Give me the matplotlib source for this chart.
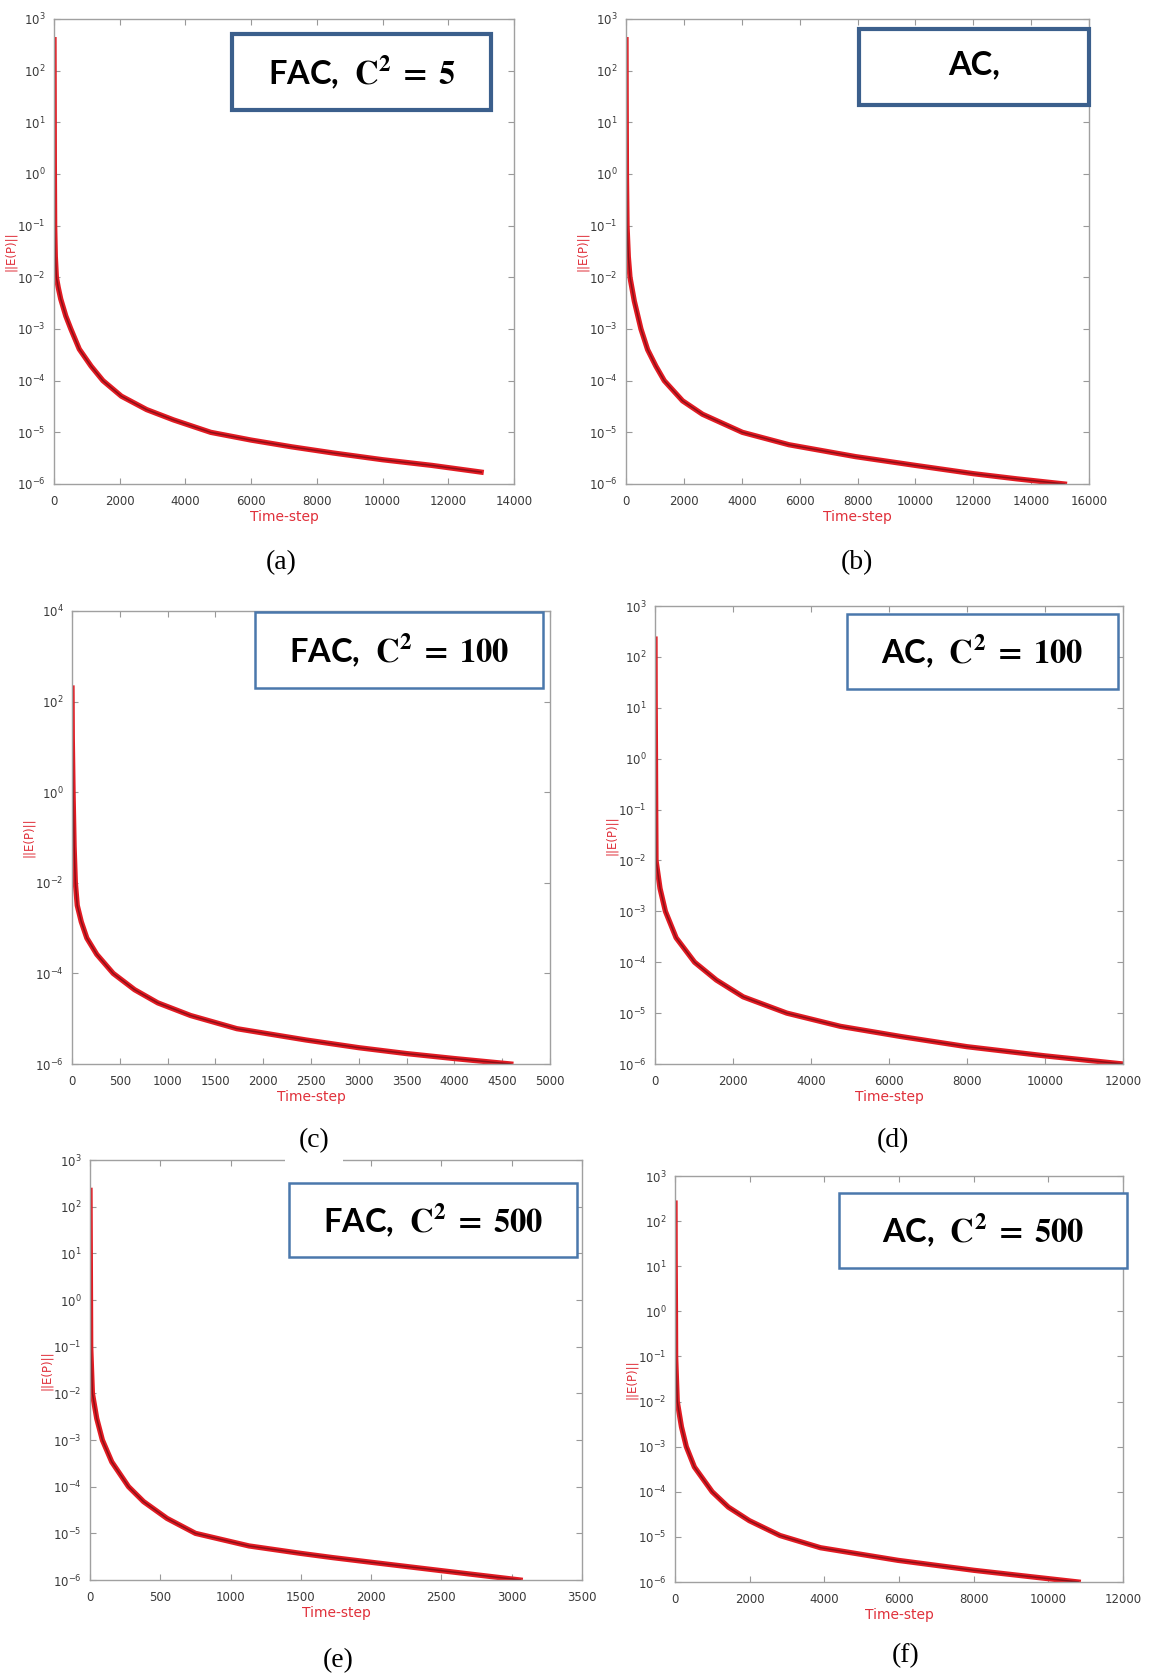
"""Six convergence panels: ||E(P)|| against time-step, FAC vs AC at three C^2 values."""
import matplotlib.pyplot as plt
import numpy as np
from matplotlib.patches import Rectangle
from matplotlib.ticker import LogLocator

plt.rcParams['mathtext.fontset'] = 'stix'

W, H = 1152, 1680

# readings from the picture: time-step and log10 ||E(P)||
t_a = [0, 5, 10, 20, 40, 72, 130, 205, 360, 513, 770, 1130, 1490, 2050, 2820, 3640, 4770, 6000, 7230, 8500, 10000, 11500, 13000]
logy_a = [2.6, 1.5, 0.2, -1.0, -1.6, -2.0, -2.2, -2.42, -2.75, -3.0, -3.39, -3.72, -4.0, -4.3, -4.56, -4.76, -5.0, -5.15, -5.28, -5.4, -5.53, -5.64, -5.77]

t_b = [0, 5, 15, 35, 80, 138, 287, 517, 747, 1034, 1322, 1954, 2644, 4023, 5632, 7931, 10000, 12000, 13500, 15150]
logy_b = [2.6, 1.5, 0.0, -1.0, -1.6, -2.0, -2.46, -3.0, -3.4, -3.72, -4.0, -4.39, -4.65, -5.0, -5.24, -5.47, -5.64, -5.8, -5.9, -6.0]

t_c = [0, 3, 11, 22, 35, 55, 97, 155, 259, 431, 655, 897, 1241, 1724, 2448, 3000, 3500, 4000, 4590]
logy_c = [2.3, 1.2, 0.0, -1.2, -2.0, -2.5, -2.86, -3.22, -3.58, -4.0, -4.36, -4.65, -4.93, -5.22, -5.47, -5.64, -5.77, -5.88, -6.0]

t_d = [0, 4, 12, 18, 26, 129, 267, 542, 1015, 1574, 2261, 3379, 4755, 6303, 8000, 10000, 12000]
logy_d = [2.35, 1.2, 0.0, -1.0, -2.0, -2.55, -3.0, -3.52, -4.0, -4.35, -4.68, -5.0, -5.26, -5.46, -5.66, -5.84, -6.0]

t_e = [0, 2, 5, 17, 48, 88, 155, 274, 381, 548, 750, 1131, 1500, 1726, 2000, 2500, 3060]
logy_e = [2.35, 1.0, -1.0, -2.0, -2.54, -3.0, -3.47, -4.0, -4.32, -4.68, -5.0, -5.27, -5.43, -5.52, -5.62, -5.8, -6.0]

t_f = [0, 4, 12, 17, 60, 173, 303, 519, 996, 1429, 1991, 2814, 3896, 5974, 8000, 9500, 10800]
logy_f = [2.4, 1.2, 0.0, -1.0, -2.0, -2.56, -3.0, -3.45, -4.0, -4.34, -4.64, -4.97, -5.24, -5.52, -5.74, -5.88, -6.0]

panel_tags = ["(a)", "(b)", "(c)", "(d)", "(e)", "(f)"]
box_texts = [r"FAC,  $\mathbf{C^2\;=\;5}$", "AC,", r"FAC,  $\mathbf{C^2\;=\;100}$",
             r"AC,  $\mathbf{C^2\;=\;100}$", r"FAC,  $\mathbf{C^2\;=\;500}$", r"AC,  $\mathbf{C^2\;=\;500}$"]
x_max = [14000, 16000, 5000, 12000, 3500, 12000]
x_step = [2000, 2000, 500, 2000, 500, 2000]
y_top = [1e3, 1e3, 1e4, 1e3, 1e3, 1e3]

# pixel layout: axes (left, right, top, bottom), boxes, tag centres
axes_px = [(54, 514, 19, 484), (626, 1089, 19, 484), (72, 550, 611, 1064),
           (655, 1123, 606, 1064), (90, 582, 1160, 1580), (675, 1123, 1176, 1582)]
box_px = [(232, 491, 34, 110), (859, 1089, 29, 105), (255, 543, 612, 688),
          (847, 1118, 614, 689), (289, 577, 1183, 1257), (839, 1127, 1193, 1268)]
box_style = [(3.0, '#3b5f8c'), (3.0, '#3b5f8c'), (1.8, '#4a78ac'),
             (1.8, '#4a78ac'), (1.8, '#4a78ac'), (1.8, '#4a78ac')]
tag_px = [(281, 563), (857, 563), (314, 1141), (893, 1141), (338, 1661), (906, 1656)]

series = [(t_a, logy_a), (t_b, logy_b), (t_c, logy_c), (t_d, logy_d), (t_e, logy_e), (t_f, logy_f)]

fig = plt.figure(figsize=(W / 100, H / 100), dpi=100)
fig.patch.set_facecolor('white')

for i, (t, ly) in enumerate(series):
    y = 10.0 ** np.array(ly)
    l, r, tp, b = axes_px[i]
    ax = fig.add_axes([l / W, 1 - b / H, (r - l) / W, (b - tp) / H])
    ax.plot(t, y, color='#e31b23', lw=3.8, solid_joinstyle='round')
    ax.plot(t, y, color='#8c0f17', lw=1.1, solid_joinstyle='round')
    ax.set_yscale('log')
    ax.set_xlim(0, x_max[i])
    ax.set_ylim(1e-6, y_top[i])
    ax.set_xticks(range(0, x_max[i] + 1, x_step[i]))
    if i == 2:
        ax.yaxis.set_major_locator(LogLocator(base=100))
    else:
        ax.yaxis.set_major_locator(LogLocator(base=10, numticks=12))
    ax.yaxis.set_minor_locator(plt.NullLocator())
    ax.tick_params(direction='in', top=True, right=True, length=4, width=0.8,
                   color='#999999', labelsize=8.5, labelcolor='#3a3a3a')
    ax.tick_params(axis='x', pad=8)
    ax.tick_params(axis='y', pad=6)
    for s in ax.spines.values():
        s.set_color('#a0a0a0')
        s.set_linewidth(1.0)
    ax.set_xlabel("Time-step", color='#e0303a', fontsize=10, labelpad=1)
    ax.set_ylabel("||E(P)||", color='#e0303a', fontsize=8.5, labelpad=0)

    bl, br, bt, bb = box_px[i]
    lw, ec = box_style[i]
    fig.add_artist(Rectangle((bl / W, 1 - bb / H), (br - bl) / W, (bb - bt) / H,
                             transform=fig.transFigure, facecolor='white',
                             edgecolor=ec, lw=lw, zorder=4))
    ty = (bt + bb) / 2 - (2 if i == 1 else 0)
    fig.text((bl + br) / 2 / W, 1 - ty / H, box_texts[i], ha='center', va='center',
             fontsize=23.5, fontweight='bold', family='Lato', zorder=5)

    tx, tyy = tag_px[i]
    fig.text(tx / W, 1 - tyy / H, panel_tags[i], ha='center', va='center',
             fontsize=20, family='Liberation Serif', zorder=5,
             bbox=dict(facecolor='white', edgecolor='none', boxstyle='square,pad=0.5'))

fig.savefig("out.png", dpi=100)
